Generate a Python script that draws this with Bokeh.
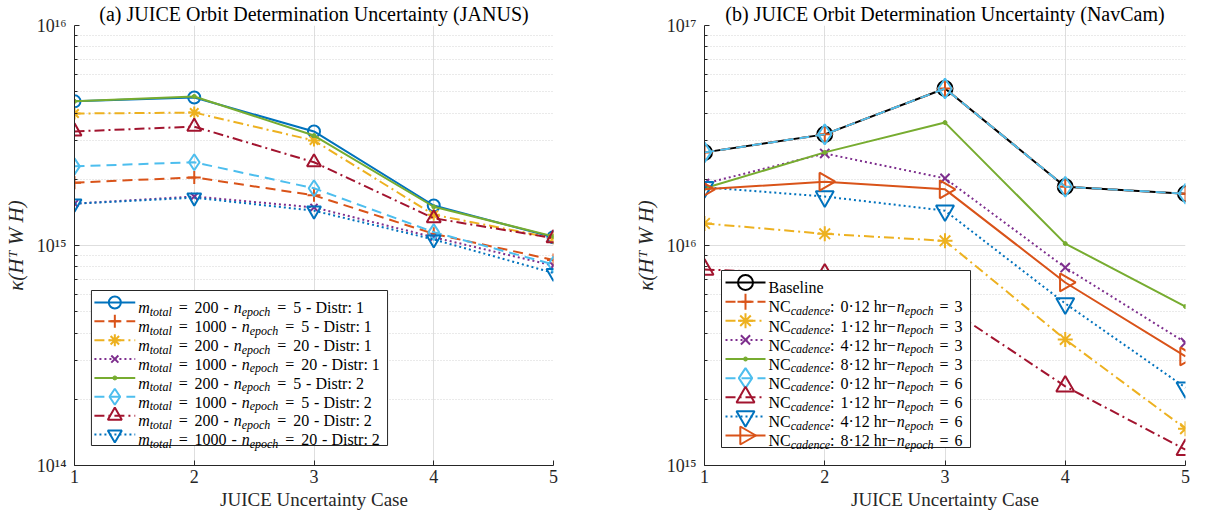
import math
from bokeh.plotting import figure
from bokeh.models import Range1d, LinearScale, FixedTicker, CustomJSTickFormatter
from bokeh.layouts import row
from bokeh.embed import file_html
from bokeh.resources import INLINE
from bokeh.core.properties import value

FONT = "Liberation Serif"

# ---------------- data ----------------
cases = [1, 2, 3, 4, 5]

# (a) JANUS
janus_title = "(a) JUICE Orbit Determination Uncertainty (JANUS)"
janus_m_total = ["200", "1000", "200", "1000", "200", "1000", "200", "1000"]
janus_n_epoch = ["5", "5", "20", "20", "5", "5", "20", "20"]
janus_distr = ["1", "1", "1", "1", "2", "2", "2", "2"]
janus_m200_n5_d1 = [4.52e15, 4.71e15, 3.30e15, 1.52e15, 1.09e15]
janus_m1000_n5_d1 = [1.93e15, 2.04e15, 1.69e15, 1.13e15, 8.6e14]
janus_m200_n20_d1 = [3.98e15, 4.02e15, 3.00e15, 1.38e15, 1.08e15]
janus_m1000_n20_d1 = [1.55e15, 1.67e15, 1.49e15, 1.09e15, 8.1e14]
janus_m200_n5_d2 = [4.52e15, 4.76e15, 3.16e15, 1.50e15, 1.10e15]
janus_m1000_n5_d2 = [2.29e15, 2.39e15, 1.82e15, 1.15e15, 8.2e14]
janus_m200_n20_d2 = [3.30e15, 3.47e15, 2.39e15, 1.33e15, 1.08e15]
janus_m1000_n20_d2 = [1.55e15, 1.65e15, 1.44e15, 1.065e15, 7.5e14]
janus_series = [janus_m200_n5_d1, janus_m1000_n5_d1, janus_m200_n20_d1, janus_m1000_n20_d1,
                janus_m200_n5_d2, janus_m1000_n5_d2, janus_m200_n20_d2, janus_m1000_n20_d2]

# (b) NavCam
navcam_title = "(b) JUICE Orbit Determination Uncertainty (NavCam)"
nc_cadence = ["0", "1", "4", "8", "0", "1", "4", "8"]
nc_n_epoch = ["3", "3", "3", "3", "6", "6", "6", "6"]
navcam_baseline = [2.65e16, 3.20e16, 5.17e16, 1.85e16, 1.72e16]
navcam_nc0_n3 = [2.65e16, 3.20e16, 5.17e16, 1.85e16, 1.72e16]
navcam_nc1_n3 = [1.26e16, 1.13e16, 1.05e16, 3.74e15, 1.47e15]
navcam_nc4_n3 = [1.91e16, 2.62e16, 2.02e16, 7.94e15, 3.62e15]
navcam_nc8_n3 = [1.82e16, 2.65e16, 3.62e16, 1.02e16, 5.28e15]
navcam_nc0_n6 = [2.65e16, 3.20e16, 5.17e16, 1.85e16, 1.72e16]
navcam_nc1_n6 = [7.78e15, 7.40e15, 5.30e15, 2.29e15, 1.18e15]
navcam_nc4_n6 = [1.84e16, 1.67e16, 1.44e16, 5.45e15, 2.26e15]
navcam_nc8_n6 = [1.80e16, 1.95e16, 1.80e16, 6.79e15, 3.13e15]
navcam_series = [navcam_baseline, navcam_nc0_n3, navcam_nc1_n3, navcam_nc4_n3, navcam_nc8_n3,
                 navcam_nc0_n6, navcam_nc1_n6, navcam_nc4_n6, navcam_nc8_n6]

x_label = "JUICE Uncertainty Case"
y_label = "κ(Hᵀ W H)"

# ---------------- styles ----------------
BLUE, ORANGE, YELLOW, PURPLE = "#0072BD", "#D95319", "#EDB120", "#7E2F8E"
GREEN, LBLUE, RED, BLACK = "#77AC30", "#4DBEEE", "#A2142F", "#000000"
DASH = {"solid": "solid", "dashed": "10 6", "dashdot": "10 4 2 4", "dotted": "2 3"}

left_styles = [
    dict(color=BLUE, dash="solid", marker="circle", size=12),
    dict(color=ORANGE, dash="dashed", marker="cross", size=13),
    dict(color=YELLOW, dash="dashdot", marker="asterisk", size=12),
    dict(color=PURPLE, dash="dotted", marker="x", size=10),
    dict(color=GREEN, dash="solid", marker="dot", size=4),
    dict(color=LBLUE, dash="dashed", marker="diamond", size=16),
    dict(color=RED, dash="dashdot", marker="triangle", size=14),
    dict(color=BLUE, dash="dotted", marker="inverted_triangle", size=14),
]
right_styles = [
    dict(color=BLACK, dash="solid", marker="circle", size=15),
    dict(color=ORANGE, dash="dashed", marker="cross", size=16),
    dict(color=YELLOW, dash="dashdot", marker="asterisk", size=15),
    dict(color=PURPLE, dash="dotted", marker="x", size=13),
    dict(color=GREEN, dash="solid", marker="dot", size=4),
    dict(color=LBLUE, dash="dashed", marker="diamond", size=20),
    dict(color=RED, dash="dashdot", marker="triangle", size=18),
    dict(color=BLUE, dash="dotted", marker="inverted_triangle", size=18),
    dict(color=ORANGE, dash="solid", marker="triangle", size=18, angle=-math.pi / 2),
]

RM = {' ': 250, '=': 564, '-': 333, ':': 278, '·': 250, '−': 564, 'D': 722, 'i': 278, 's': 389,
      't': 278, 'r': 333, 'h': 500, 'B': 667, 'a': 444, 'e': 444, 'l': 278, 'n': 500, 'N': 722,
      'C': 667}
IT = {'m': 722, 't': 278, 'o': 500, 'a': 500, 'l': 278, 'n': 500, 'e': 444, 'p': 500, 'c': 444,
      'h': 500, 'd': 500}


def text_width(s, kind, fs):
    table = IT if kind in ("it", "sub") else RM
    return sum(table.get(ch, 500) for ch in s) / 1000.0 * fs


def add_marker(p, x, y, st, **kw):
    if st["marker"] == "dot":
        p.scatter(x, y, marker="circle", size=st["size"], fill_color=st["color"],
                  line_color=st["color"], **kw)
    else:
        p.scatter(x, y, marker=st["marker"], size=st["size"], angle=st.get("angle", 0.0),
                  fill_color=None, line_color=st["color"], line_width=2, **kw)


def sup_formatter():
    return CustomJSTickFormatter(code="""
        const sup = {'0':'⁰','1':'¹','2':'²','3':'³','4':'⁴','5':'⁵','6':'⁶','7':'⁷','8':'⁸','9':'⁹','-':'⁻'};
        const e = Math.round(Math.log10(tick));
        return '10' + String(e).split('').map(c => sup[c]).join('');
    """)


def make_panel(series, styles, y_lo_exp, width, mb_left, mb_right, title):
    p = figure(width=width, height=519, x_range=Range1d(1, 5),
               y_range=Range1d(10.0 ** y_lo_exp, 10.0 ** (y_lo_exp + 2)),
               y_axis_type="log", output_backend="svg", toolbar_location=None,
               min_border_left=mb_left, min_border_right=mb_right,
               min_border_top=25, min_border_bottom=54, title=title)
    p.title.align = "center"
    p.title.text_font = FONT
    p.title.text_font_size = "20px"
    p.title.text_font_style = "normal"
    p.title.text_color = "#000000"
    p.title.standoff = 1
    p.title.offset = 0
    p.outline_line_color = None
    p.background_fill_color = "white"
    p.border_fill_color = "white"
    p.extra_x_ranges = {"px": Range1d(0, 481)}
    p.extra_y_ranges = {"px": Range1d(0, 440)}
    p.extra_x_scales = {"px": LinearScale()}
    p.extra_y_scales = {"px": LinearScale()}

    xt = FixedTicker(ticks=cases)
    p.xaxis.ticker = xt
    p.xgrid.ticker = xt
    yt = FixedTicker(ticks=[10.0 ** (y_lo_exp + k) for k in range(3)],
                     minor_ticks=[m * 10.0 ** (y_lo_exp + k) for k in range(2) for m in range(2, 10)])
    p.yaxis.ticker = yt
    p.ygrid.ticker = yt
    p.yaxis.formatter = sup_formatter()

    for ax in (p.xaxis, p.yaxis):
        ax.axis_line_color = "#262626"
        ax.major_tick_line_color = "#262626"
        ax.minor_tick_line_color = "#262626"
        ax.major_tick_in = 5
        ax.major_tick_out = 0
        ax.minor_tick_in = 3
        ax.minor_tick_out = 0
        ax.major_label_text_font = FONT
        ax.major_label_text_font_size = "18px"
        ax.major_label_text_color = "#262626"
        ax.axis_label_text_font = FONT
        ax.axis_label_text_font_size = "19px"
        ax.axis_label_text_color = "#262626"
    p.xaxis.minor_tick_line_color = None
    p.xaxis.major_label_standoff = 4
    p.xaxis.axis_label_standoff = 3
    p.yaxis.major_label_standoff = 8
    p.yaxis.axis_label_standoff = 6
    p.xaxis.axis_label = x_label
    p.xaxis.axis_label_text_font_style = "normal"
    p.yaxis.axis_label = y_label
    p.yaxis.axis_label_text_font_style = "italic"
    p.yaxis.axis_label_text_font_size = "21px"

    p.xgrid.grid_line_color = "#dedede"
    p.ygrid.grid_line_color = "#dedede"
    p.ygrid.minor_grid_line_color = "#d4d4d4"
    p.ygrid.minor_grid_line_dash = "1 2"

    for ys, st in zip(series, styles):
        p.line(cases, ys, line_color=st["color"], line_width=2, line_dash=DASH[st["dash"]])
        add_marker(p, cases, ys, st)
    return p


def draw_legend(p, rows, styles, box_left, box_top, box_bottom, y_first, step,
                xs0, xs1, x_text, fs=16, sub_fs=12, sub_dy=4):
    pieces = {"rm": ([], [], []), "it": ([], [], []), "sub": ([], [], [])}
    max_end = 0
    for i, tokens in enumerate(rows):
        yc = y_first - i * step
        base = yc - 0.33 * fs
        x = x_text
        for kind, tok in tokens:
            if kind == "gap":
                x += tok
                continue
            size = sub_fs if kind == "sub" else fs
            yb = base - sub_dy if kind == "sub" else base
            pieces[kind][0].append(x)
            pieces[kind][1].append(yb)
            pieces[kind][2].append(tok)
            x += text_width(tok, kind, size)
        max_end = max(max_end, x)
    kw = dict(x_range_name="px", y_range_name="px")
    p.quad(left=[box_left], right=[max_end + 8], top=[box_top], bottom=[box_bottom],
           fill_color="white", line_color="#262626", line_width=1, **kw)
    for i, st in enumerate(styles):
        yc = y_first - i * step
        p.line([xs0, xs1], [yc, yc], line_color=st["color"], line_width=2,
               line_dash=DASH[st["dash"]], **kw)
        add_marker(p, [(xs0 + xs1) / 2.0], [yc], st, **kw)
    for kind, (xs, ys, ts) in pieces.items():
        if not xs:
            continue
        size = sub_fs if kind == "sub" else fs
        p.text(x=xs, y=ys, text=ts, text_font=value(FONT), text_font_size=value(f"{size}px"),
               text_font_style="normal" if kind == "rm" else "italic",
               text_baseline="alphabetic", text_align="left", text_color="#000000", **kw)


# ---------------- panel (a) ----------------
p1 = make_panel(janus_series, left_styles, 14, 600, 72, 47, janus_title)
left_rows = []
for m, n, d in zip(janus_m_total, janus_n_epoch, janus_distr):
    left_rows.append([("it", "m"), ("sub", "total"), ("gap", 7), ("rm", "="), ("gap", 7),
                      ("rm", m), ("gap", 5), ("rm", "-"), ("gap", 5), ("it", "n"),
                      ("sub", "epoch"), ("gap", 7), ("rm", "="), ("gap", 7), ("rm", n),
                      ("gap", 5), ("rm", "- Distr: " + d)])
draw_legend(p1, left_rows, left_styles, box_left=17, box_top=175, box_bottom=20,
            y_first=163, step=18.86, xs0=20, xs1=61, x_text=64)

# ---------------- panel (b) ----------------
p2 = make_panel(navcam_series, right_styles, 15, 611, 104, 26, navcam_title)
right_rows = [[("rm", "Baseline")]]
for k, n in zip(nc_cadence, nc_n_epoch):
    right_rows.append([("rm", "NC"), ("sub", "cadence"), ("rm", ":"), ("gap", 6),
                       ("rm", k + "·12 hr"), ("gap", 1), ("rm", "−"), ("gap", 1),
                       ("it", "n"), ("sub", "epoch"), ("gap", 6), ("rm", "="), ("gap", 6),
                       ("rm", n)])
draw_legend(p2, right_rows, right_styles, box_left=17, box_top=195, box_bottom=18,
            y_first=183, step=19.125, xs0=21, xs1=61, x_text=64)

layout = row(p1, p2)
open("out.html", "w").write(file_html(layout, INLINE))
